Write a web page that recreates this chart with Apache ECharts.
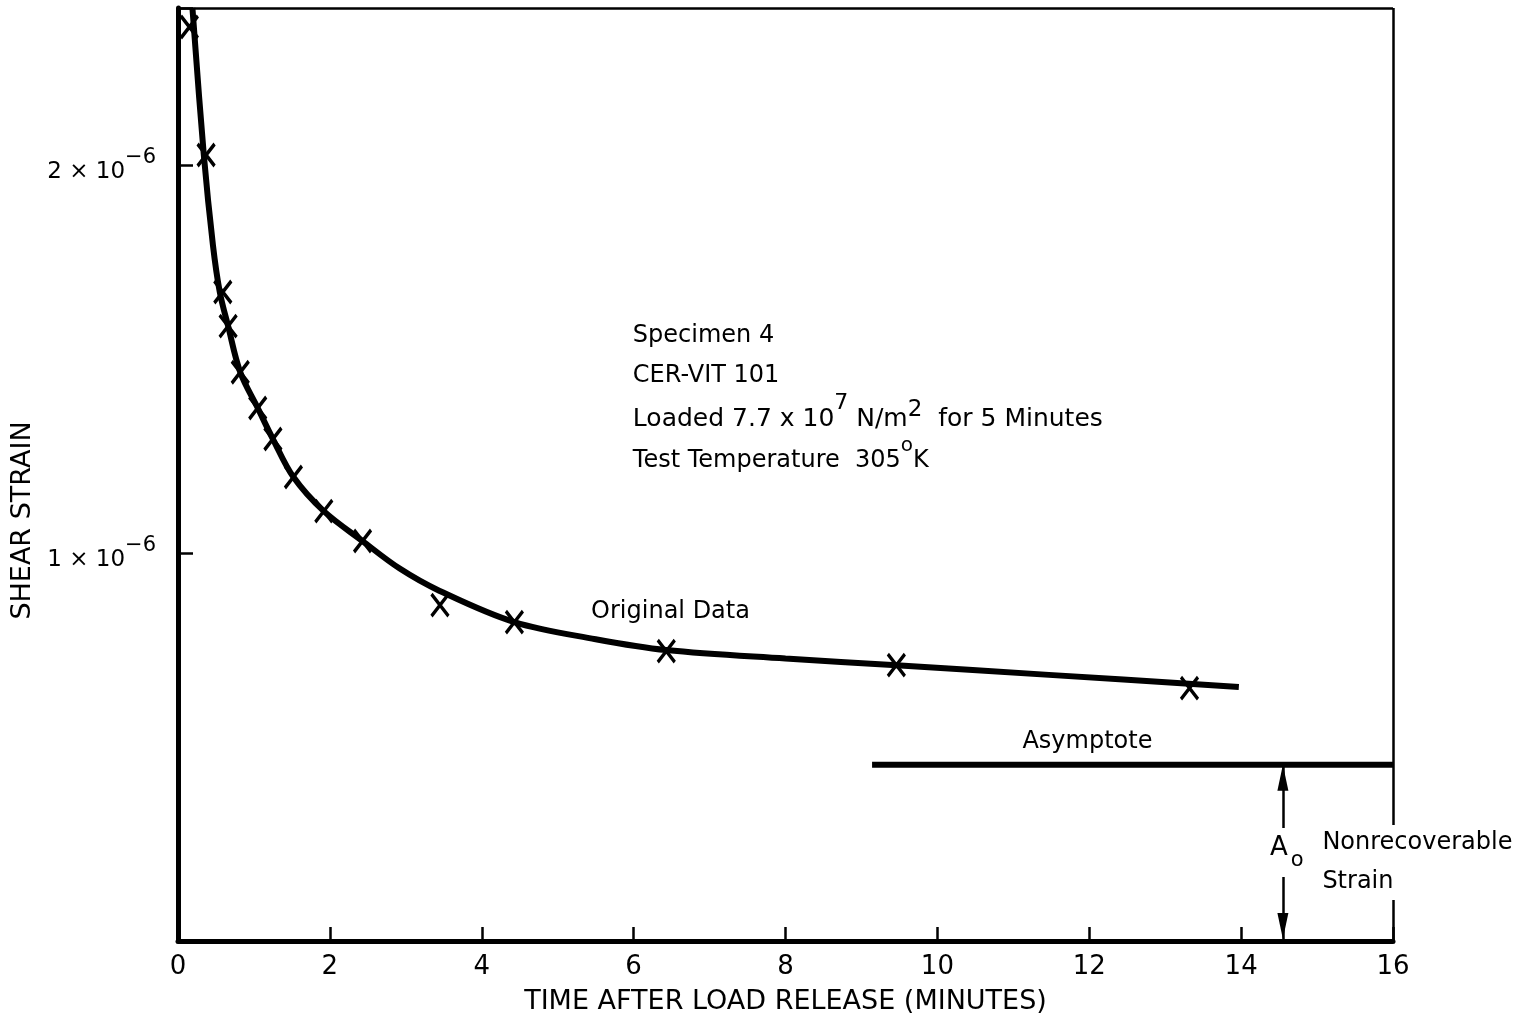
<!DOCTYPE html>
<html><head><meta charset="utf-8">
<script src="https://cdn.jsdelivr.net/npm/echarts@6/dist/echarts.min.js"></script>
<style>html,body{margin:0;padding:0;background:#fff}#c{width:1538px;height:1023px}</style>
</head><body><div id="c"></div><script>
const FONT = 'DejaVu Sans';
// measured X markers (time in minutes, shear strain in units of 1e-6)
const markTime   = [0.15, 0.37, 0.59, 0.66, 0.82, 1.05, 1.25, 1.52, 1.92, 2.43, 3.45, 4.43, 6.43, 9.46, 13.32];
const markStrain = [2.356, 2.026, 1.673, 1.585, 1.466, 1.374, 1.294, 1.196, 1.108, 1.031, 0.866, 0.822, 0.747, 0.711, 0.652];
// hand-drawn fitted curve
const curveTime   = [0.19, 0.34, 0.46, 0.55, 0.66, 0.82, 1.05, 1.25, 1.52, 1.92, 2.43, 2.92, 3.44, 4.43, 5.50, 6.43, 8.00, 9.46, 11.47, 13.97];
const curveStrain = [2.405, 2.026, 1.794, 1.673, 1.585, 1.466, 1.374, 1.294, 1.196, 1.108, 1.031, 0.960, 0.903, 0.822, 0.778, 0.750, 0.728, 0.711, 0.686, 0.655];
// asymptote
const asymTime = [9.14, 16];
const asymStrain = [0.454, 0.454];
// A_o arrow
const arrowTime = 14.55;
const arrowUpper = [0.291, 0.454];
const arrowLower = [0.165, 0];
// axes
const xMin = 0, xMax = 16, xStep = 2;
const yMin = 0, yMax = 2.405, yStep = 1;
const yLabelValues = [1, 2];
const rightGap = [0.106, 0.299];

const chart = echarts.init(document.getElementById('c'), null, {renderer: 'canvas'});
const black = '#000';

const option = {
  backgroundColor: '#fff',
  animation: false,
  grid: {left: 178, right: 145, top: 8, bottom: 82},
  xAxis: {
    type: 'value', min: xMin, max: xMax, interval: xStep,
    name: 'TIME AFTER LOAD RELEASE (MINUTES)', nameLocation: 'middle', nameGap: 47,
    nameTextStyle: {fontFamily: FONT, fontSize: 27, color: black},
    axisLine: {show: true, lineStyle: {color: black, width: 5}},
    axisTick: {show: true, inside: true, length: 14, lineStyle: {color: black, width: 2.5}},
    axisLabel: {fontFamily: FONT, fontSize: 26, color: black, margin: 13},
    splitLine: {show: false}
  },
  yAxis: {
    type: 'value', min: yMin, max: yMax, interval: yStep,
    name: 'SHEAR STRAIN', nameLocation: 'middle', nameGap: 136, nameRotate: 90,
    nameTextStyle: {fontFamily: FONT, fontSize: 27, color: black, padding: [0, 92, 0, 0]},
    axisLine: {show: true, lineStyle: {color: black, width: 5}},
    axisTick: {show: true, inside: true, length: 15, lineStyle: {color: black, width: 2.5}},
    axisLabel: {
      margin: 22,
      formatter: v => yLabelValues.indexOf(v) >= 0 ? '{n|' + v + ' \u00d7 10}{s|\u22126}' : '',
      rich: {
        n: {fontFamily: FONT, fontSize: 23, color: black, padding: [14, 0, 0, 0]},
        s: {fontFamily: FONT, fontSize: 21, color: black, padding: [0, 0, 16, 0]}
      }
    },
    splitLine: {show: false}
  },
  series: [
    {
      type: 'line', name: 'curve', data: curveTime.map((t, i) => [t, curveStrain[i]]),
      showSymbol: false, symbol: 'none', smooth: 0.35,
      lineStyle: {color: black, width: 6}, z: 3
    },
    {
      type: 'scatter', name: 'Original Data', data: markTime.map((t, i) => [t, markStrain[i]]),
      symbol: 'path://M0,0L10,12M10,0L0,12', symbolSize: [17, 22],
      itemStyle: {color: 'rgba(0,0,0,0)', borderColor: black, borderWidth: 3.5, opacity: 1}, z: 4
    },
    {
      type: 'line', name: 'Asymptote', data: asymTime.map((t, i) => [t, asymStrain[i]]),
      symbol: 'none', lineStyle: {color: black, width: 6}, z: 3
    },
    {
      type: 'lines', coordinateSystem: 'cartesian2d', symbol: 'none',
      lineStyle: {color: black, width: 2.5, opacity: 1},
      data: [
        {coords: [[arrowTime, arrowUpper[0]], [arrowTime, arrowUpper[1]]]},
        {coords: [[arrowTime, arrowLower[0]], [arrowTime, arrowLower[1]]]}
      ], z: 3
    },
    {
      type: 'scatter', name: 'arrowUp', data: [[arrowTime, arrowUpper[1]]],
      symbol: 'path://M5,0L10,26L0,26Z', symbolSize: [11, 26], symbolOffset: [0, 13],
      itemStyle: {color: black, opacity: 1}, z: 4
    },
    {
      type: 'scatter', name: 'arrowDown', data: [[arrowTime, arrowLower[1]]],
      symbol: 'path://M0,0L10,0L5,26Z', symbolSize: [11, 26], symbolOffset: [0, -15],
      itemStyle: {color: black, opacity: 1}, z: 4
    },
    {
      type: 'lines', coordinateSystem: 'cartesian2d', symbol: 'none',
      lineStyle: {color: black, width: 2.5, opacity: 1},
      data: [
        {coords: [[xMin, yMax], [xMax, yMax]]},
        {coords: [[xMax, rightGap[1]], [xMax, yMax]]},
        {coords: [[xMax, yMin], [xMax, rightGap[0]]]}
      ], z: 2
    }
  ]
};
chart.setOption(option);

function px(x, y) { return chart.convertToPixel({gridIndex: 0}, [x, y]); }
const base = {fontFamily: FONT, fontSize: 24, fill: black};
function txt(x, y, text, extra) {
  const p = px(x, y);
  return {type: 'text', x: p[0], y: p[1], style: Object.assign({}, base, {text: text, verticalAlign: 'middle'}, extra || {}), z: 10};
}
const supRich = {
  n: {fontFamily: FONT, fontSize: 24, fill: black, padding: [10, 0, 0, 0]},
  w: {fontFamily: FONT, fontSize: 25, fill: black, padding: [10, 0, 0, 0]},
  s: {fontFamily: FONT, fontSize: 22, fill: black, padding: [0, 0, 22, 0]},
  m: {fontFamily: FONT, fontSize: 23, fill: black, padding: [0, 0, 8, 0]},
  o: {fontFamily: FONT, fontSize: 20, fill: black, padding: [0, 0, 20, 0]},
  sub: {fontFamily: FONT, fontSize: 21, fill: black, padding: [26, 0, 0, 3]},
  a: {fontFamily: FONT, fontSize: 26, fill: black}
};
chart.setOption({
  graphic: [
    txt(5.99, 1.559, 'Specimen 4'),
    txt(5.99, 1.456, 'CER-VIT 101'),
    txt(5.99, 1.358, '{w|Loaded 7.7 x 10}{s|7}{w| N/m}{m|2}{w|  for 5 Minutes}', {rich: supRich}),
    txt(5.99, 1.250, '{n|Test Temperature  305}{o|o}{n|K}', {rich: supRich}),
    txt(5.44, 0.848, 'Original Data'),
    txt(11.12, 0.513, 'Asymptote'),
    txt(14.38, 0.240, '{a|A}{sub|o}', {rich: supRich}),
    txt(15.07, 0.253, 'Nonrecoverable'),
    txt(15.07, 0.152, 'Strain')
  ]
});
</script></body></html>
